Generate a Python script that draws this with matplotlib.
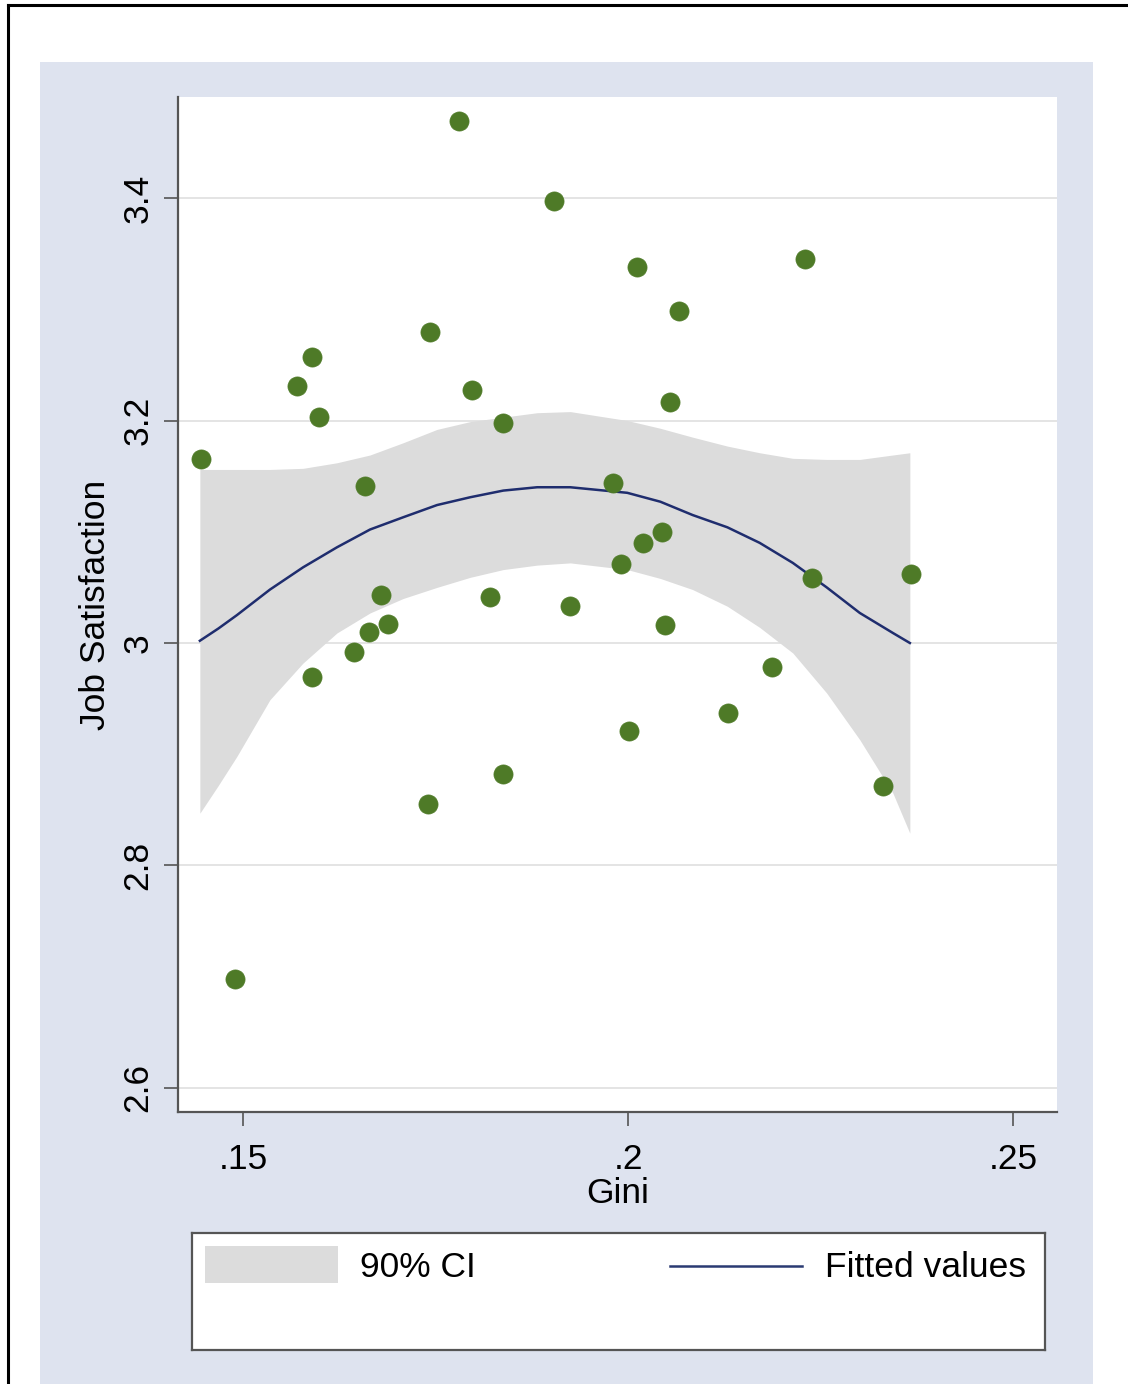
import numpy as np
import matplotlib
matplotlib.use("Agg")
import matplotlib.pyplot as plt
from matplotlib.patches import Rectangle

plt.rcParams['font.family'] = ['Liberation Sans', 'DejaVu Sans']

# ___ observed points (Gini, job satisfaction)
gini = [0.1445, 0.1490, 0.1570, 0.1590, 0.1599, 0.1590, 0.1644, 0.1658,
        0.1664, 0.1679, 0.1688, 0.1743, 0.1740, 0.1780, 0.1797, 0.1821,
        0.1838, 0.1838, 0.1904, 0.1925, 0.1981, 0.1991, 0.2001, 0.2012,
        0.2019, 0.2044, 0.2048, 0.2055, 0.2066, 0.2130, 0.2187, 0.2230,
        0.2239, 0.2331, 0.2368]
satis = [3.165, 2.698, 3.231, 3.257, 3.203, 2.969, 2.992, 3.141,
         3.010, 3.043, 3.017, 3.280, 2.855, 3.469, 3.227, 3.041,
         3.198, 2.882, 3.397, 3.033, 3.144, 3.071, 2.921, 3.338,
         3.090, 3.100, 3.016, 3.217, 3.298, 2.937, 2.978, 3.345,
         3.058, 2.871, 3.062]

# ___ fitted values and 90% CI
fit_x = [0.1444, 0.1468, 0.1492, 0.1535, 0.1578, 0.1622, 0.1665, 0.1708,
         0.1752, 0.1795, 0.1838, 0.1882, 0.1925, 0.1999, 0.2042, 0.2084,
         0.2129, 0.2171, 0.2214, 0.2258, 0.2301, 0.2344, 0.2366]
fit_y = [3.002, 3.013, 3.025, 3.048, 3.068, 3.086, 3.102, 3.113,
         3.124, 3.131, 3.137, 3.140, 3.140, 3.135, 3.127, 3.115,
         3.104, 3.090, 3.072, 3.050, 3.027, 3.009, 3.000]
ci_hi = [3.156, 3.156, 3.156, 3.156, 3.157, 3.162, 3.169, 3.180,
         3.192, 3.199, 3.203, 3.207, 3.208, 3.200, 3.193, 3.185,
         3.177, 3.171, 3.166, 3.165, 3.165, 3.169, 3.171]
ci_lo = [2.847, 2.872, 2.898, 2.949, 2.982, 3.009, 3.027, 3.040,
         3.050, 3.059, 3.066, 3.070, 3.072, 3.066, 3.058, 3.048,
         3.033, 3.014, 2.991, 2.955, 2.913, 2.865, 2.829]

xticks = [0.15, 0.2, 0.25]
xtick_labels = [".15", ".2", ".25"]
yticks = [2.6, 2.8, 3.0, 3.2, 3.4]
ytick_labels = ["2.6", "2.8", "3", "3.2", "3.4"]

W, H = 1128, 1384
fig = plt.figure(figsize=(W / 100, H / 100), dpi=100)
fig.patch.set_facecolor("white")

def fx(px):
    return px / W

def fy(py):
    return 1 - py / H

panel_col = "#dee3ef"
# outer frame (left and top lines only) and the blue-grey panel
fig.add_artist(plt.Line2D([fx(8), fx(8)], [fy(5), 0], color="black", lw=2.2))
fig.add_artist(plt.Line2D([fx(8), 1], [fy(5), fy(5)], color="black", lw=2.2))
fig.add_artist(Rectangle((fx(40), 0), fx(1093) - fx(40), fy(62),
                         transform=fig.transFigure, facecolor=panel_col,
                         edgecolor="none", zorder=0))

ax = fig.add_axes([fx(178), fy(1112), fx(1057) - fx(178), fy(97) - fy(1112)])
ax.set_facecolor("white")

ax.fill_between(fit_x, ci_lo, ci_hi, color="#dcdcdc", linewidth=0, zorder=2)
ax.plot(fit_x, fit_y, color="#1f2d6e", lw=1.8, zorder=3)
ax.scatter(gini, satis, s=190, color="#4e7a27", edgecolors="#4e7a27",
           linewidths=0.5, zorder=4)

ax.set_xlim(0.14156, 0.25571)
ax.set_ylim(2.5784, 3.4908)
ax.set_xticks(xticks)
ax.set_xticklabels(xtick_labels)
ax.set_yticks(yticks)
ax.set_yticklabels(ytick_labels)
ax.tick_params(axis="y", labelrotation=90)
ax.tick_params(length=10, width=1.2, color="#555555", labelsize=25.5, pad=7)
ax.tick_params(axis="x", pad=12)
for lab in ax.get_yticklabels():
    lab.set_va("center")

ax.yaxis.grid(True, color="#e2e2e2", lw=1.3, zorder=1)
ax.set_axisbelow(True)
for side in ["top", "right"]:
    ax.spines[side].set_visible(False)
for side in ["left", "bottom"]:
    ax.spines[side].set_color("#555555")
    ax.spines[side].set_linewidth(1.6)

ax.set_xlabel("Gini", fontsize=25.5, labelpad=1)
ax.set_ylabel("Job Satisfaction", fontsize=25.5)
ax.yaxis.set_label_coords((112 - 178) / 879, 0.5)

# ___ legend box
lax = fig.add_axes([fx(192), fy(1350), fx(1045) - fx(192), fy(1233) - fy(1350)])
lax.set_xlim(192, 1045)
lax.set_ylim(1350, 1233)
lax.set_xticks([])
lax.set_yticks([])
lax.set_facecolor("white")
for sp in lax.spines.values():
    sp.set_color("#555555")
    sp.set_linewidth(1.6)
lax.add_patch(Rectangle((205, 1246), 133, 37, facecolor="#dcdcdc", edgecolor="none"))
lax.text(360, 1268, "90% CI", fontsize=25.5, va="center", ha="left")
lax.plot([670, 802], [1266, 1266], color="#2a3a72", lw=1.8)
lax.text(825, 1268, "Fitted values", fontsize=25.5, va="center", ha="left")

fig.savefig("out.png", dpi=100)
